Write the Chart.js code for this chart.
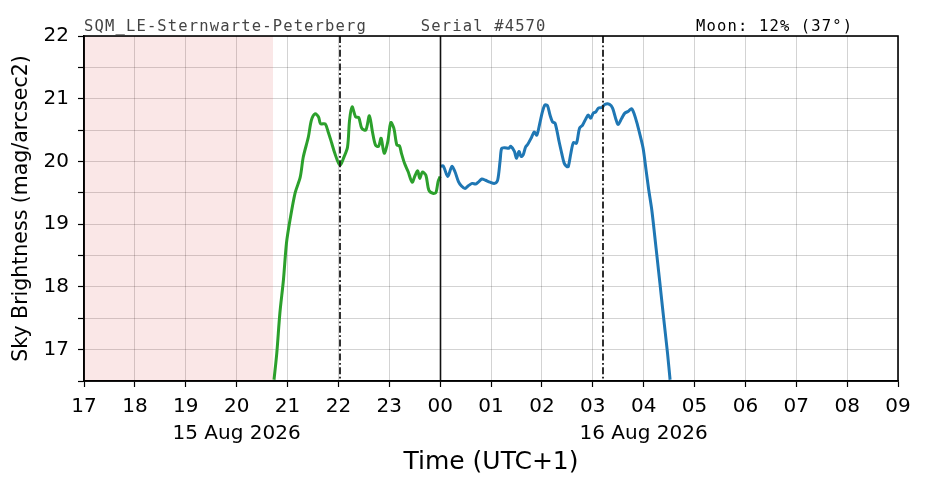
<!DOCTYPE html>
<html><head><meta charset="utf-8">
<script src="https://cdn.jsdelivr.net/npm/chart.js@4.4.1/dist/chart.umd.min.js"></script>
<style>html,body{margin:0;padding:0;background:#fff}#wrap{width:926px;height:488px}</style>
</head><body><div id="wrap"><canvas id="c" width="926" height="488"></canvas></div>
<script>
// hours since 17:00 on 15 Aug 2026
const xTickLabels = ['17','18','19','20','21','22','23','00','01','02','03','04','05','06','07','08','09'];
const dateLabels = {3:'15 Aug 2026', 11:'16 Aug 2026'};
const greenTimes = [3.735,3.79,3.85,3.92,3.98,4.05,4.15,4.25,4.31,4.41,4.47,4.54,4.61,4.65,4.74,4.80,4.87,4.93,5.03,5.11,5.18,5.22,5.27,5.34,5.40,5.46,5.54,5.61,5.67,5.73,5.79,5.84,5.90,5.97,6.03,6.09,6.15,6.20,6.24,6.30,6.37,6.45,6.51,6.56,6.60,6.65,6.72,6.78,6.87,6.92,6.96,7.0];
const greenValues = [16.52,16.95,17.58,18.11,18.70,19.07,19.50,19.75,20.07,20.39,20.66,20.76,20.71,20.60,20.60,20.47,20.29,20.13,19.94,20.07,20.23,20.66,20.87,20.71,20.70,20.53,20.50,20.73,20.47,20.26,20.24,20.37,20.13,20.31,20.62,20.53,20.26,20.25,20.13,19.97,19.84,19.67,19.78,19.85,19.73,19.83,19.78,19.54,19.49,19.51,19.68,19.76];
const blueTimes = [7.0,7.06,7.15,7.23,7.29,7.36,7.42,7.49,7.55,7.63,7.70,7.75,7.82,7.89,7.98,8.07,8.13,8.18,8.21,8.27,8.35,8.39,8.46,8.50,8.55,8.59,8.63,8.68,8.72,8.80,8.85,8.90,8.96,9.01,9.06,9.11,9.16,9.21,9.26,9.34,9.39,9.44,9.49,9.52,9.57,9.62,9.68,9.74,9.80,9.87,9.91,9.96,10.01,10.06,10.11,10.18,10.24,10.33,10.39,10.46,10.50,10.57,10.63,10.70,10.76,10.81,10.88,10.93,10.99,11.05,11.10,11.16,11.22,11.27,11.32,11.37,11.42,11.47,11.52];
const blueValues = [19.92,19.93,19.76,19.92,19.84,19.68,19.61,19.57,19.61,19.65,19.64,19.67,19.72,19.70,19.67,19.65,19.70,20.02,20.21,20.22,20.21,20.24,20.16,20.05,20.16,20.08,20.10,20.23,20.27,20.39,20.47,20.42,20.61,20.79,20.90,20.89,20.74,20.63,20.61,20.31,20.13,19.97,19.92,19.92,20.13,20.30,20.29,20.53,20.58,20.69,20.74,20.69,20.77,20.79,20.85,20.86,20.91,20.91,20.85,20.66,20.59,20.69,20.77,20.80,20.84,20.77,20.58,20.42,20.21,19.85,19.55,19.23,18.80,18.43,18.06,17.68,17.31,16.94,16.52];
const twilightShade = [0, 3.715];
const dashDotMarks = [5.03, 10.2];
const midnightMark = [7.0];
const headerTexts = ['SQM_LE-Sternwarte-Peterberg', 'Serial #4570', 'Moon: 12% (37\u00b0)'];

const overlay = {
  id: 'overlay',
  beforeDatasetsDraw(chart) {
    const {ctx, chartArea: a, scales: {x}} = chart;
    ctx.save();
    ctx.fillStyle = 'rgba(214,39,40,0.11)';
    const x0 = x.getPixelForValue(twilightShade[0]), x1 = x.getPixelForValue(twilightShade[1]);
    ctx.fillRect(x0, a.top, x1 - x0, a.bottom - a.top);
    ctx.restore();
  },
  afterDatasetsDraw(chart) {
    const {ctx, chartArea: a, scales: {x}} = chart;
    ctx.save();
    ctx.strokeStyle = '#1a1a1a';
    ctx.lineWidth = 1.8;
    ctx.setLineDash([7, 2.5, 1.8, 2.5]);
    dashDotMarks.forEach(t => {
      const px = Math.round(x.getPixelForValue(t));
      ctx.beginPath(); ctx.moveTo(px, a.top); ctx.lineTo(px, a.bottom); ctx.stroke();
    });
    ctx.setLineDash([]);
    ctx.strokeStyle = '#111';
    ctx.lineWidth = 1.6;
    midnightMark.forEach(t => {
      const px = Math.round(x.getPixelForValue(t)) + 0.5;
      ctx.beginPath(); ctx.moveTo(px, a.top); ctx.lineTo(px, a.bottom); ctx.stroke();
    });
    ctx.restore();
  },
  afterDraw(chart) {
    const {ctx, chartArea: a, scales: {x}} = chart;
    ctx.save();
    ctx.strokeStyle = '#000';
    ctx.lineWidth = 1.6;
    ctx.strokeRect(a.left, a.top, a.right - a.left, a.bottom - a.top);
    ctx.font = '15.5px "DejaVu Sans Mono"';
    ctx.letterSpacing = '1.15px';
    ctx.textBaseline = 'alphabetic';
    ctx.textAlign = 'left';
    const px = [a.left, x.getPixelForValue(6.62), x.getPixelForValue(12.03)];
    const cols = ['#444', '#444', '#000'];
    headerTexts.forEach((s, i) => { ctx.fillStyle = cols[i]; ctx.fillText(s, px[i], 31); });
    ctx.restore();
  }
};

new Chart(document.getElementById('c'), {
  type: 'line',
  data: {
    datasets: [
      {data: greenTimes.map((t, i) => ({x: t, y: greenValues[i]})), borderColor: '#2ca02c', borderWidth: 3, pointRadius: 0, tension: 0.3, fill: false},
      {data: blueTimes.map((t, i) => ({x: t, y: blueValues[i]})), borderColor: '#1f77b4', borderWidth: 3, pointRadius: 0, tension: 0.3, fill: false}
    ]
  },
  options: {
    responsive: false,
    animation: false,
    devicePixelRatio: 1,
    layout: {padding: {top: 36, right: 28, left: 0, bottom: 0}},
    plugins: {legend: {display: false}, tooltip: {enabled: false}},
    scales: {
      x: {
        type: 'linear', min: 0, max: 16,
        afterFit: s => { s.height = 107; },
        grid: {color: 'rgba(0,0,0,0.22)', lineWidth: 0.8, tickLength: 6, tickColor: '#000', tickWidth: 1.2},
        border: {display: true, color: '#000', width: 1.6},
        ticks: {
          stepSize: 1, autoSkip: false, maxRotation: 0, padding: 6, color: '#000',
          font: {family: 'DejaVu Sans', size: 20, lineHeight: 1.35},
          callback: v => dateLabels[v] ? [xTickLabels[v], dateLabels[v]] : xTickLabels[v]
        },
        title: {display: true, text: 'Time (UTC+1)', color: '#000', font: {family: 'DejaVu Sans', size: 25}, padding: {top: 0, bottom: 11}}
      },
      y: {
        min: 16.5, max: 22,
        afterFit: s => { s.width = 84; },
        grid: {color: 'rgba(0,0,0,0.22)', lineWidth: 0.8, tickLength: 6, tickColor: '#000', tickWidth: 1.2},
        border: {display: true, color: '#000', width: 1.6},
        ticks: {
          stepSize: 0.5, padding: 9, color: '#000',
          font: {family: 'DejaVu Sans', size: 20},
          callback: v => Number.isInteger(v) ? String(v) : ''
        },
        title: {display: true, text: 'Sky Brightness (mag/arcsec2)', color: '#000', font: {family: 'DejaVu Sans', size: 20.5}, padding: {top: 9, bottom: 0}}
      }
    }
  },
  plugins: [overlay]
});
</script></body></html>
